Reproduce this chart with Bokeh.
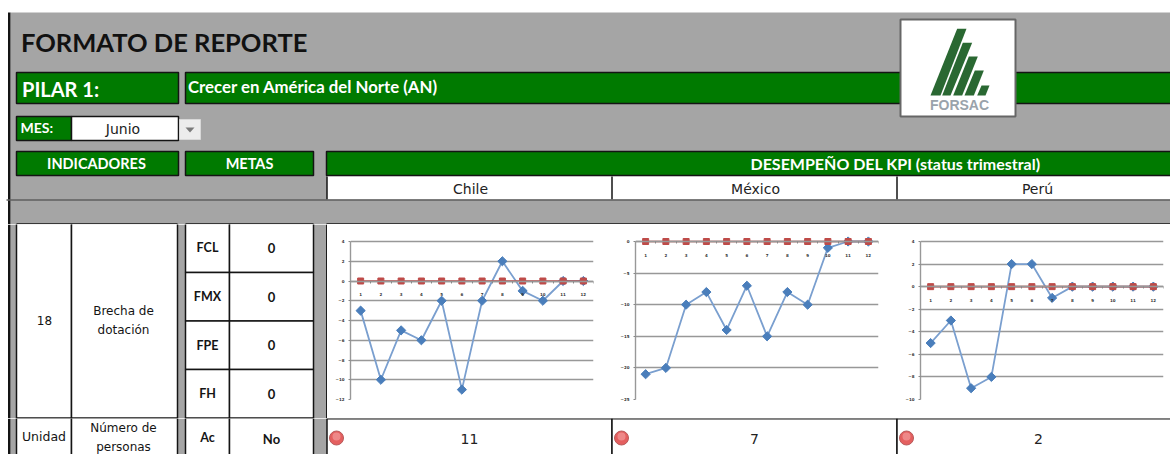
from bokeh.plotting import figure
from bokeh.layouts import column, row
from bokeh.models import Range1d, FixedTicker, BoxAnnotation
from bokeh.core.properties import value
from bokeh.embed import file_html
from bokeh.resources import INLINE

months = list(range(1, 13))
chile = [-3, -10, -5, -6, -2, -11, -2, 2, -1, -2, 0, 0]
mexico = [-21, -20, -10, -8, -14, -7, -15, -8, -10, -1, 0, 0]
peru = [-5, -3, -9, -8, 2, 2, -1, 0, 0, 0, 0, 0]
meta = [0] * 12
chile_ticks = [4, 2, 0, -2, -4, -6, -8, -10, -12]
mexico_ticks = [0, -5, -10, -15, -20, -25]
peru_ticks = [4, 2, 0, -2, -4, -6, -8, -10]
countries = ["Chile", "México", "Perú"]
statuses = ["11", "7", "2"]
meta_codes = ["FCL", "FMX", "FPE", "FH"]
meta_values = ["0", "0", "0", "0"]

GRAY = "#A5A5A5"
GREEN = "#007A00"
INK = "#141414"
BLUE = "#4A7EBB"
BLUE_LINE = "#7A9FCF"
RED = "#BE4B48"
GRID = "#989898"
BODY = "DejaVu Sans"
HEAD = "Lato"


def canvas(x0, x1, y0, y1):
    f = figure(width=x1 - x0, height=y1 - y0, x_range=Range1d(x0, x1), y_range=Range1d(y1, y0),
               output_backend="svg", toolbar_location=None, min_border=0,
               background_fill_color="white", border_fill_color="white", outline_line_color=None)
    f.axis.visible = False
    f.grid.visible = False
    return f


def box(f, x0, x1, y0, y1, fill, line=None, lw=1.5):
    f.quad(left=[x0], right=[x1], top=[y0], bottom=[y1], fill_color=fill,
           line_color=line, line_width=lw)


def label(f, x, y, s, size, color=INK, font=BODY, bold=False, align="center"):
    f.text(x=[x], y=[y], text=[s], text_align=align, text_baseline="middle",
           text_color=color, text_font=value(font), text_font_size=f"{size}px",
           text_font_style="bold" if bold else "normal")


# ---------- header band ----------
top = canvas(0, 1170, 0, 224)
box(top, 10, 1170, 12, 224, GRAY)
box(top, 7.5, 10, 12, 224, INK)
label(top, 20.5, 41.5, "FORMATO DE REPORTE", 25.5, "#111111", HEAD, True, "left")
box(top, 16, 178, 72, 103, GREEN, INK)
box(top, 185, 1172, 72, 103, GREEN, INK)
label(top, 21.5, 88, "PILAR 1:", 20, "white", HEAD, True, "left")
label(top, 187.5, 86, "Crecer en América del Norte (AN)", 16.8, "white", HEAD, True, "left")
box(top, 16, 71, 116, 140, GREEN, INK)
box(top, 71, 178, 116, 140, "white", INK)
label(top, 20, 127, "MES:", 14, "white", HEAD, True, "left")
label(top, 122.5, 128.5, "Junio", 14, "#222222")
box(top, 179, 200, 119, 139, "#ECECEC", "#D8D8D8", 1)
top.patch(x=[185, 194, 189.5], y=[127, 127, 132], fill_color="#7A7A7A", line_color=None)
box(top, 16, 178, 151, 175, GREEN, INK)
box(top, 185, 313, 151, 175, GREEN, INK)
box(top, 326, 1172, 151, 175, GREEN, INK)
label(top, 96, 163, "INDICADORES", 14.5, "white", HEAD, True)
label(top, 249, 163, "METAS", 14.5, "white", HEAD, True)
label(top, 895, 163, "DESEMPEÑO DEL KPI (status trimestral)", 16, "white", HEAD, True)
box(top, 326.5, 1172, 176, 199, "white", None)
for xl, name, xc in zip([326.5, 611.5, 896.5], countries, [470, 755, 1037]):
    top.line(x=[xl, xl], y=[176, 199], line_color=INK, line_width=1.5)
    label(top, xc, 188, name, 14, "#222222")
top.line(x=[6, 1170], y=[199.5, 199.5], line_color="#5F5F5F", line_width=1.5)
for a, b in [(16, 177), (185, 313), (326, 1172)]:
    top.line(x=[a, b], y=[223.6, 223.6], line_color=INK, line_width=1.5)
# logo
top.quad(left=[900], right=[1015], top=[19], bottom=[116], fill_color="white",
         line_color="#666666", line_width=2)
for tx0, tx1, bx0, bx1, ty in [(230, 258, 150, 180, 85), (247, 275, 185, 210, 127),
                               (265, 292, 218, 245, 168), (283, 310, 252, 280, 210),
                               (303, 327, 290, 315, 255)]:
    top.patch(x=[880 + v / 3 for v in (tx0, tx1, bx1, bx0)],
              y=[ty / 3, ty / 3, 95, 95], fill_color="#2A6832", line_color=None)
label(top, 959, 104, "FORSAC", 14, "#9AA3AB", "Liberation Sans", True)

# ---------- table left of charts ----------
mid = canvas(0, 327, 224, 418)
box(mid, 10, 327, 224, 418, GRAY)
box(mid, 7.5, 10, 224, 418, INK)
box(mid, 16, 71, 222, 417.5, "white", INK)
box(mid, 71, 177, 222, 417.5, "white", INK)
label(mid, 44, 320, "18", 12)
label(mid, 123, 310, "Brecha de", 12)
label(mid, 123, 329, "dotación", 12)
rows = [222, 272, 320.5, 369, 417.5]
for i, (code, v) in enumerate(zip(meta_codes, meta_values)):
    box(mid, 185, 229, rows[i], rows[i + 1], "white", INK)
    box(mid, 229, 313, rows[i], rows[i + 1], "white", INK)
    label(mid, 207, (rows[i] + rows[i + 1]) / 2, code, 12.5, INK, HEAD, True)
    label(mid, 271, (rows[i] + rows[i + 1]) / 2, v, 13, INK, HEAD, True)
mid.line(x=[326.3, 326.3], y=[224, 418], line_color=INK, line_width=1.5)


# ---------- charts ----------
def chart(series, ticks, width, right_rule, left=23, right=19):
    low, high = min(ticks), max(ticks)
    # 158 px carry the axis; 6 px of headroom keep the markers on the top tick whole
    headroom = 6 * (high - low) / 158
    f = figure(width=width, height=194, x_range=Range1d(0.5, 12.5), y_range=Range1d(low, high + headroom),
               output_backend="svg", toolbar_location=None,
               min_border_left=left, min_border_right=right, min_border_top=11, min_border_bottom=19,
               background_fill_color="white", border_fill_color="white", outline_line_color=None)
    f.xaxis.fixed_location = 0
    f.xaxis.ticker = FixedTicker(ticks=months, minor_ticks=[m - 0.5 for m in months] + [12.5])
    f.yaxis.ticker = FixedTicker(ticks=ticks)
    f.yaxis.bounds = (low, high)
    f.xgrid.visible = False
    f.ygrid.ticker = FixedTicker(ticks=ticks)
    f.ygrid.grid_line_color = GRID
    f.ygrid.grid_line_width = 1.4
    for ax in (f.xaxis[0], f.yaxis[0]):
        ax.axis_line_color = GRID
        ax.axis_line_width = 1.4
        ax.major_label_text_font_size = "4px"
        ax.major_label_text_font_style = "bold"
        ax.major_label_text_color = "#333333"
        ax.major_label_text_font = BODY
    f.xaxis.major_tick_line_color = None
    f.xaxis.minor_tick_line_color = "#888888"
    f.xaxis.minor_tick_out = 2
    f.xaxis.minor_tick_in = 0
    f.xaxis.major_label_standoff = 6
    f.yaxis.major_tick_line_color = "#888888"
    f.yaxis.major_tick_out = 2
    f.yaxis.major_tick_in = 0
    f.yaxis.minor_tick_line_color = None
    f.yaxis.major_label_standoff = 4
    f.line(months, series, line_color=BLUE_LINE, line_width=1.8)
    f.scatter(months, series, marker="square", size=6.5, angle=0.7854, fill_color=BLUE, line_color=BLUE)
    f.line(months, meta, line_color=RED, line_width=1.6)
    f.scatter(months, meta, marker="square", size=6, fill_color=RED, line_color=RED)
    if right_rule:
        f.add_layout(BoxAnnotation(left=width - 1.5, right=width, top=0, bottom=194,
                                   left_units="canvas", right_units="canvas",
                                   top_units="canvas", bottom_units="canvas",
                                   fill_color=INK, fill_alpha=1, line_color=None, level="overlay"))
    return f


c1 = chart(chile, chile_ticks, 285, True)
c2 = chart(mexico, mexico_ticks, 285, True)
c3 = chart(peru, peru_ticks, 273, False, right=7)

# ---------- bottom row ----------
bot = canvas(0, 1170, 418, 454)
box(bot, 10, 1170, 418, 454, GRAY)
box(bot, 7.5, 10, 418, 454, INK)
box(bot, 16, 71, 417.5, 460, "white", INK)
box(bot, 71, 177, 417.5, 460, "white", INK)
box(bot, 185, 229, 417.5, 460, "white", INK)
box(bot, 229, 313, 417.5, 460, "white", INK)
label(bot, 43.5, 436, "Unidad", 12.5)
label(bot, 123, 427, "Número de", 12)
label(bot, 123, 446, "personas", 12)
label(bot, 207, 437, "Ac", 12.5, INK, HEAD, True)
label(bot, 271, 438, "No", 13, INK, HEAD, True)
for xl, x1, s, xc in zip([326.5, 611.5, 896.5], [611.5, 896.5, 1172], statuses, [469, 754, 1038]):
    box(bot, xl, x1, 418.3, 460, "white", INK)
    bot.scatter([xl + 9.5], [437.5], marker="circle", size=14, fill_color="#E45F5F", line_color="#B85A5A", line_width=1)
    bot.scatter([xl + 9.5], [436], marker="circle", size=8, fill_color="#F29A9A", line_color=None, fill_alpha=0.7)
    label(bot, xc, 438, s, 14, "#222222")

page = column(top, row(column(mid), column(c1), column(c2), column(c3)), bot)
open("out.html", "w").write(file_html(page, INLINE))
